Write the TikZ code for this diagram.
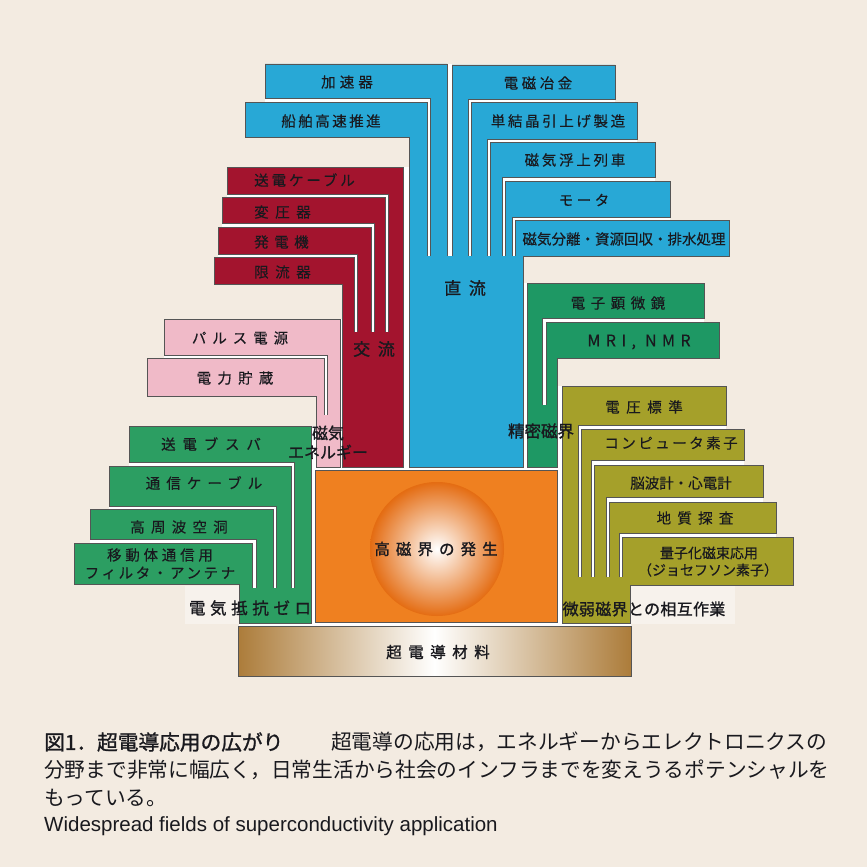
\documentclass[tikz,border=0pt]{standalone}
\usepackage{fontspec}
\newfontfamily\jp[FakeBold=0.3]{Noto Sans CJK JP}
\newfontfamily\jpb[FakeBold=1.2]{Noto Sans CJK JP}
\newfontfamily\jpc{Noto Sans CJK JP}
\newfontfamily\enf{Liberation Sans}
\definecolor{bgc}{RGB}{243,235,225}
\definecolor{blu}{RGB}{40,168,214}
\definecolor{redc}{RGB}{163,20,46}
\definecolor{pnk}{RGB}{240,186,200}
\definecolor{grn}{RGB}{44,158,98}
\definecolor{grnF}{RGB}{30,152,100}
\definecolor{olv}{RGB}{165,160,42}
\definecolor{org}{RGB}{239,128,32}
\definecolor{orgD}{RGB}{228,108,18}
\definecolor{tanc}{RGB}{172,124,58}
\definecolor{edge}{RGB}{85,85,85}
\definecolor{ink}{RGB}{25,25,30}
\newcommand\T[3]{\fontsize{#1}{#1}\selectfont\addfontfeatures{LetterSpace=#2}#3}
% left-side L: colour, xl, yt, yb, sx1, sx2, ybottom
\newcommand\Lleft[7]{\draw[shp,fill=#1] (#2,#3) -- (#6,#3) -- (#6,#7) -- (#5,#7) -- (#5,#4) -- (#2,#4) -- cycle;}
% right-side L: colour, sx1, yt, yb, sx2, xr, ybottom
\newcommand\Lright[7]{\draw[shp,fill=#1] (#2,#3) -- (#6,#3) -- (#6,#4) -- (#5,#4) -- (#5,#7) -- (#2,#7) -- cycle;}
\begin{document}
\begin{tikzpicture}[x=1pt,y=-1pt,
  shp/.style={draw=edge,line width=0.5pt},
  gapl/.style={draw=white,line width=4pt},
  lab/.style={inner sep=0pt,text=ink,font=\jp},
  blab/.style={inner sep=0pt,text=ink,font=\jpb},
  clab/.style={inner sep=0pt,text=ink,font=\jpc}]
\useasboundingbox (0,0) rectangle (867,867);
\fill[bgc] (0,0) rectangle (867,867);
% light patches
\fill[bgc!65!white] (185,586) rectangle (239,624);
\fill[bgc!65!white] (630,586) rectangle (735,624);
% white gaps between clusters
\fill[white] (447,64) rectangle (452,256);
\fill[white] (403,167) rectangle (409,470);
\fill[white] (340,319) rectangle (342,470);
\fill[white] (311,426) rectangle (316,470);
\fill[white] (523,283) rectangle (527,470);
\fill[white] (557,386) rectangle (562,470);
\fill[white] (239,466) rectangle (631,626);
% white gaps inside clusters
\draw[gapl] (265,100) -| (428.5,256);
\draw[gapl] (615,100.5) -| (469.5,256);
\draw[gapl] (637,140.5) -| (488.5,256);
\draw[gapl] (655,179) -| (503.5,256);
\draw[gapl] (670,218.5) -| (513.5,256);
\draw[gapl] (227,195.5) -| (386.5,332);
\draw[gapl] (222,225) -| (372.5,332);
\draw[gapl] (218,255.5) -| (355.5,332);
\draw[gapl] (164,356.5) -| (325.5,415);
\draw[gapl] (129,464) -| (292.5,588);
\draw[gapl] (109,507.5) -| (274.5,588);
\draw[gapl] (90,541) -| (254,588);
\draw[gapl] (704,320) -| (544,405);
\draw[gapl] (726,427) -| (579.5,577);
\draw[gapl] (744,462.5) -| (592.5,577);
\draw[gapl] (763,499.5) -| (607.5,577);
\draw[gapl] (776,535) -| (620.5,577);
% blue (DC)
\Lleft{blu}{265}{64}{98}{430}{447}{260}
\Lleft{blu}{245}{102}{137}{409}{427}{260}
\Lright{blu}{452}{65}{99}{468}{615}{260}
\Lright{blu}{471}{102}{139}{487}{637}{260}
\Lright{blu}{490}{142}{177}{502}{655}{260}
\Lright{blu}{505}{181}{217}{512}{670}{260}
\draw[shp,fill=blu] (515,220) rectangle (729,256);
\fill[blu] (409,255.5) rectangle (523,467);
\draw[shp] (409,256) -- (409,467) -- (523,467) -- (523,256);
% red (AC)
\Lleft{redc}{227}{167}{194}{388}{403}{336}
\Lleft{redc}{222}{197}{223}{374}{385}{336}
\Lleft{redc}{218}{227}{254}{357}{371}{336}
\Lleft{redc}{214}{257}{284}{342}{354}{336}
\fill[redc] (342,331.5) rectangle (403,467);
\draw[shp] (342,332) -- (342,467) -- (403,467) -- (403,332);
% pink
\Lleft{pnk}{164}{319}{355}{327}{340}{419}
\Lleft{pnk}{147}{358}{396}{316}{324}{419}
\fill[pnk] (316,414.5) rectangle (340,467);
\draw[shp] (316,415) -- (316,467) -- (340,467) -- (340,415);
% green left
\Lleft{grn}{129}{426}{462}{294}{311}{592}
\Lleft{grn}{109}{466}{506}{276}{291}{592}
\Lleft{grn}{90}{509}{539}{256}{273}{592}
\Lleft{grn}{74}{543}{584}{239}{252}{592}
\fill[grn] (239,587.5) rectangle (311,623);
\draw[shp] (239,588) -- (239,623) -- (311,623) -- (311,588);
% green right
\Lright{grnF}{527}{283}{318}{542}{704}{409}
\Lright{grnF}{546}{322}{358}{557}{719}{409}
\fill[grnF] (527,404.5) rectangle (557,467);
\draw[shp] (527,405) -- (527,467) -- (557,467) -- (557,405);
% olive
\Lright{olv}{562}{386}{425}{578}{726}{581}
\Lright{olv}{581}{429}{460}{591}{744}{581}
\Lright{olv}{594}{465}{497}{606}{763}{581}
\Lright{olv}{609}{502}{533}{619}{776}{581}
\draw[shp,fill=olv] (622,537) rectangle (793,585);
\fill[olv] (562,576.5) rectangle (630,623);
\draw[shp] (630,585) -- (630,623) -- (562,623) -- (562,577);
% orange core
\draw[shp,fill=org] (315,470) rectangle (557,622);
\shade[inner color=white,outer color=orgD] (437,549) circle [radius=67pt];
% material bar
\draw[shp,left color=tanc,right color=tanc,middle color=white] (238,626) rectangle (631,676);

% labels: blue
\node[lab] (kasoku) at (347,82) {\T{14.5}{28}{加速器}};
\node[lab] (senpaku) at (331,121) {\T{14.5}{17}{船舶高速推進}};
\node[lab] (yakin) at (538,83) {\T{14.5}{24}{電磁冶金}};
\node[lab] (tankessho) at (558,121) {\T{14.5}{18}{単結晶引上げ製造}};
\node[lab] (fujo) at (575,160) {\T{14.5}{19}{磁気浮上列車}};
\node[lab] (motor) at (584,200) {\T{14.5}{24}{モータ}};
\node[lab] (bunri) at (624,239) {\T{14.5}{0}{磁気分離・資源回収・排水処理}};
% red
\node[lab,anchor=west] (cable) at (254,180) {\T{14.5}{20}{送電ケーブル}};
\node[lab,anchor=west] (henatsu) at (254,212) {\T{14.5}{45}{変圧器}};
\node[lab,anchor=west] (hatsuden) at (254,242) {\T{14.5}{38}{発電機}};
\node[lab,anchor=west] (genryu) at (254,272) {\T{14.5}{45}{限流器}};
% pink
\node[lab] (pulse) at (240,338) {\T{14.5}{41}{パルス電源}};
\node[lab] (chozo) at (235,378) {\T{14.5}{43}{電力貯蔵}};
% green left
\node[lab] (busbar) at (211,444) {\T{14.5}{47}{送電ブスバ}};
\node[lab] (tsushin) at (204,483) {\T{14.5}{42}{通信ケーブル}};
\node[lab] (kushu) at (179,527) {\T{14.5}{43}{高周波空洞}};
\node[lab] (idou) at (160,555) {\T{14.5}{26}{移動体通信用}};
\node[lab] (filter) at (160,573) {\T{14.5}{18}{フィルタ・アンテナ}};
% green right
\node[lab] (denshi) at (618,303) {\T{14.5}{38}{電子顕微鏡}};
\node[lab] (mri) at (639,342) {\T{16}{34}{MRI, NMR}};
% olive
\node[lab] (denatsu) at (644,407) {\T{14.5}{45}{電圧標準}};
\node[lab] (computer) at (671,443) {\T{14.5}{17}{コンピュータ素子}};
\node[lab] (nouha) at (681,483) {\T{14.5}{0}{脳波計・心電計}};
\node[lab] (chishitsu) at (695,518) {\T{14.5}{43}{地質探査}};
\node[lab] (ryoshi) at (709,553) {\T{14}{0}{量子化磁束応用}};
\node[lab] (josephson) at (708,570) {\T{14}{0}{（ジョセフソン素子）}};
% category labels
\node[blab] (dc) at (465,288) {\T{17}{45}{直流}};
\node[blab] (ac) at (374,349) {\T{17}{45}{交流}};
\node[blab] (jiki1) at (328,433) {\T{16}{0}{磁気}};
\node[blab] (jiki2) at (328,452) {\T{16}{0}{エネルギー}};
\node[blab] (seimitsu) at (541,431) {\T{16.5}{0}{精密磁界}};
\node[blab] (zero) at (250,608) {\T{16.5}{28}{電気抵抗ゼロ}};
\node[blab] (bijaku) at (644,609) {\T{16}{2}{微弱磁界との相互作業}};
\node[blab] (kojikai) at (436,549) {\T{15.5}{39}{高磁界の発生}};
\node[blab] (zairyo) at (438,652) {\T{15.5}{42}{超電導材料}};
% caption
\node[blab,anchor=west] (cap1) at (44,742) {\T{20.7}{0}{図1．超電導応用の広がり}};
\node[clab,anchor=west] (cap2) at (331,742) {\T{20.7}{0}{超電導の応用は，エネルギーからエレクトロニクスの}};
\node[clab,anchor=west] (cap3) at (44,770) {\T{20.7}{0}{分野まで非常に幅広く，日常生活から社会のインフラまでを変えうるポテンシャルを}};
\node[clab,anchor=west] (cap4) at (44,798) {\T{20.7}{0}{もっている。}};
\node[inner sep=0pt,text=ink,anchor=west,font=\enf\fontsize{20.5}{20.5}\selectfont] (cap5) at (44,826) {Widespread fields of superconductivity application};
\end{tikzpicture}
\end{document}
